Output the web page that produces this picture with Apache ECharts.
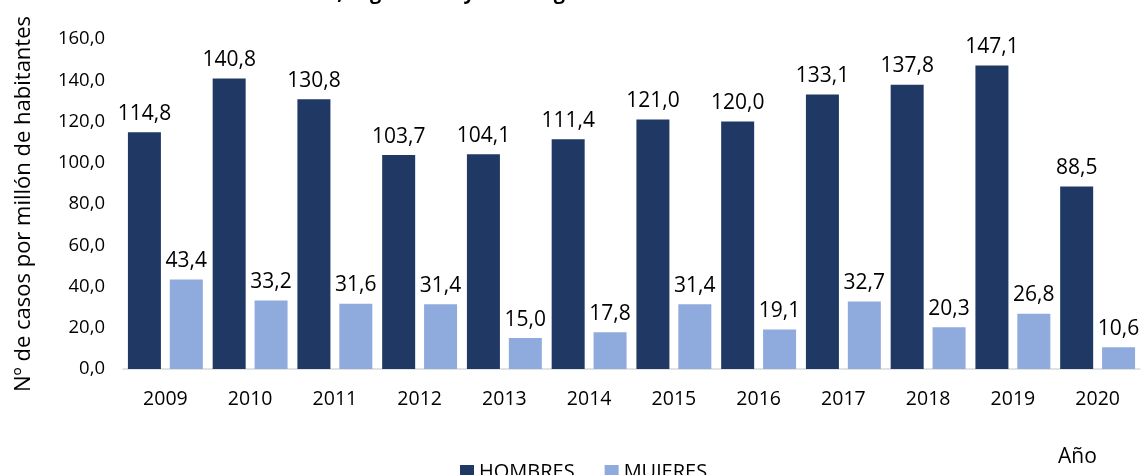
<!DOCTYPE html>
<html>
<head>
<meta charset="utf-8">
<script src="https://cdn.jsdelivr.net/npm/echarts@6/dist/echarts.min.js"></script>
<style>
  html, body { margin: 0; padding: 0; background: #fff; }
  #chart { width: 1146px; height: 475px; }
</style>
</head>
<body>
<div id="chart"></div>
<script>
const years = ["2009", "2010", "2011", "2012", "2013", "2014", "2015", "2016", "2017", "2018", "2019", "2020"];
const hombres = [114.8, 140.8, 130.8, 103.7, 104.1, 111.4, 121.0, 120.0, 133.1, 137.8, 147.1, 88.5];
const mujeres = [43.4, 33.2, 31.6, 31.4, 15.0, 17.8, 31.4, 19.1, 32.7, 20.3, 26.8, 10.6];

const fmt = v => v.toFixed(1).replace(".", ",");
const font = "'Open Sans', 'Noto Sans', sans-serif";

const myChart = echarts.init(document.getElementById("chart"));
let option = {
  textStyle: { fontFamily: font },
  animation: false,
  title: {
    text: "Tasa de incidencia, según sexo y año diagnóstico",
    left: 150,
    top: -22,
    textStyle: { fontSize: 20, fontWeight: "bold", color: "#000", fontFamily: font }
  },
  legend: {
    data: ["HOMBRES", "MUJERES"],
    left: 455,
    top: 457,
    itemWidth: 14,
    itemHeight: 14,
    itemGap: 30,
    icon: "rect",
    textStyle: { fontSize: 20, color: "#000", fontFamily: font }
  },
  grid: { left: 123, right: 6, top: 39, bottom: 106 },
  xAxis: {
    type: "category",
    data: years,
    name: "Año",
    nameLocation: "end",
    nameGap: 0,
    nameTextStyle: { fontSize: 21, color: "#000", padding: [78, 0, 0, -82], verticalAlign: "top" },
    axisLine: { lineStyle: { color: "#d9d9d9", width: 1.5 } },
    axisTick: { show: false },
    axisLabel: { fontSize: 19.5, color: "#000", margin: 20 }
  },
  yAxis: {
    type: "value",
    min: 0,
    max: 160,
    interval: 20,
    name: "Nº de casos por millón de habitantes",
    nameLocation: "middle",
    nameGap: 88,
    nameTextStyle: { fontSize: 22, color: "#000" },
    axisLine: { show: false },
    axisTick: { show: false },
    splitLine: { show: false },
    axisLabel: { fontSize: 18.5, color: "#000", margin: 18, formatter: fmt }
  },
  series: [
    {
      name: "HOMBRES",
      type: "bar",
      data: hombres,
      barWidth: 33,
      barGap: "27%",
      itemStyle: { color: "#203864" },
      label: { show: true, position: "top", distance: 8, fontSize: 21, color: "#000", formatter: p => fmt(p.value) }
    },
    {
      name: "MUJERES",
      type: "bar",
      data: mujeres,
      barWidth: 33,
      itemStyle: { color: "#8faadc" },
      label: { show: true, position: "top", distance: 8, fontSize: 21, color: "#000", formatter: p => fmt(p.value) }
    }
  ]
};
myChart.setOption(option, true);
</script>
</body>
</html>
